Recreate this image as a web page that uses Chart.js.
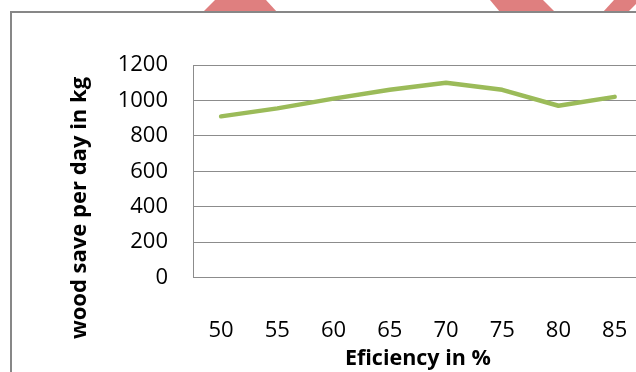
<!DOCTYPE html>
<html>
<head>
<meta charset="utf-8">
<script src="https://cdn.jsdelivr.net/npm/chart.js@4"></script>
<style>
  html, body { margin: 0; padding: 0; overflow: hidden; background: #fff; }
  #wrap { position: relative; width: 660px; height: 372px; }
</style>
</head>
<body>
<div id="wrap"><canvas id="myChart" width="660" height="372"></canvas></div>
<script>
// data
var categories = ['50', '55', '60', '65', '70', '75', '80', '85'];
var woodSaved = [910, 955, 1010, 1060, 1100, 1060, 970, 1020];
var yMin = 0, yMax = 1200, yStep = 200;
var xTitle = 'Eficiency in %';
var yTitle = 'wood save per day in kg';

// frame of the chart object and the red bits of the page behind it
var decor = {
    id: 'decor',
    beforeDraw: function(chart) {
        var c = chart.ctx;
        c.save();
        c.fillStyle = '#df7f7f';
        var shapes = [
            [[203, 12], [215, 0], [266, 0], [277, 12]],
            [[490, 0], [543, 0], [555, 12], [500, 12]],
            [[603, 12], [614, 0], [640, 0], [628, 12]]
        ];
        shapes.forEach(function(s) {
            c.beginPath();
            c.moveTo(s[0][0], s[0][1]);
            for (var i = 1; i < s.length; i++) c.lineTo(s[i][0], s[i][1]);
            c.closePath();
            c.fill();
        });
        c.strokeStyle = '#878787';
        c.lineWidth = 2;
        c.beginPath();
        c.moveTo(11, 372);
        c.lineTo(11, 12);
        c.lineTo(660, 12);
        c.stroke();
        c.restore();
    },
    afterDraw: function(chart) {
        var c = chart.ctx;
        c.save();
        c.translate(80, 208);
        c.rotate(-Math.PI / 2);
        c.font = "bold 22px 'Open Sans'";
        c.fillStyle = '#000';
        c.textAlign = 'center';
        c.textBaseline = 'middle';
        c.fillText(yTitle, 0, 0);
        c.restore();
    }
};

Chart.defaults.font.family = "'Open Sans'";
Chart.defaults.color = '#000';

var ctx = document.getElementById('myChart').getContext('2d');
var myChart = new Chart(ctx, {
    type: 'line',
    data: {
        labels: categories,
        datasets: [{
            data: woodSaved,
            borderColor: '#9bbb59',
            borderWidth: 4.5,
            borderCapStyle: 'round',
            borderJoinStyle: 'round',
            pointRadius: 0,
            tension: 0,
            fill: false
        }]
    },
    options: {
        responsive: false,
        animation: false,
        layout: { padding: { left: 0, top: 65, right: 12, bottom: 0 } },
        plugins: {
            legend: { display: false },
            tooltip: { enabled: false }
        },
        scales: {
            x: {
                offset: true,
                grid: { display: false },
                border: { display: false },
                ticks: { padding: 32, font: { size: 22 }, maxRotation: 0 },
                title: {
                    display: true,
                    text: xTitle,
                    font: { size: 21.5, weight: 'bold' },
                    padding: { top: 0, bottom: 0 }
                },
                afterFit: function(scale) { scale.height = 94.5; }
            },
            y: {
                min: yMin,
                max: yMax,
                grid: { color: '#8c8c8c', lineWidth: 1, drawTicks: false },
                border: { display: true, color: '#8c8c8c', width: 1 },
                ticks: {
                    stepSize: yStep,
                    padding: 25,
                    font: { size: 22 },
                    callback: function(v) { return String(v); }
                },
                afterFit: function(scale) { scale.width = 193; }
            }
        }
    },
    plugins: [decor]
});
</script>
</body>
</html>
